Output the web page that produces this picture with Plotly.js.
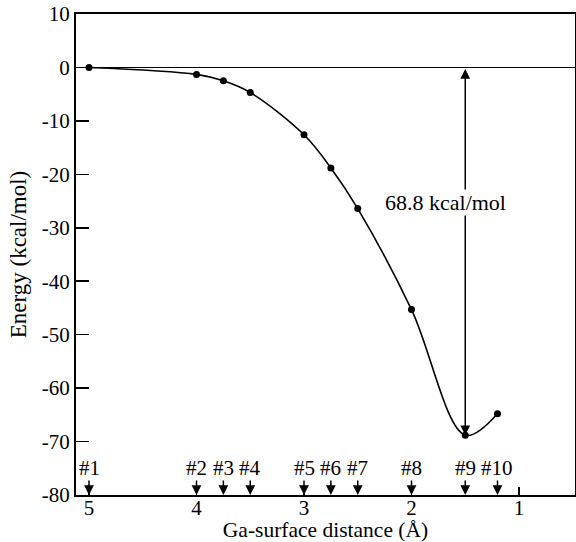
<!DOCTYPE html>
<html>
<head>
<meta charset="utf-8">
<script src="https://cdn.plot.ly/plotly-3.0.1.min.js"></script>
<style>html,body{margin:0;padding:0;background:#fff;}#chart{width:576px;height:542px;}</style>
</head>
<body>
<div id="chart"></div>
<script>
// Data
var pointLabels = ["#1","#2","#3","#4","#5","#6","#7","#8","#9","#10"];
var distance = [5.0, 4.0, 3.75, 3.5, 3.0, 2.75, 2.5, 2.0, 1.5, 1.2];
var energy = [0.0, -1.3, -2.5, -4.7, -12.6, -18.8, -26.4, -45.3, -68.8, -64.8];
var xTickVals = [5, 4, 3, 2, 1];
var yTickVals = [10, 0, -10, -20, -30, -40, -50, -60, -70, -80];
var barrierLabel = "68.8 kcal/mol";
var barrierX = 1.5;
var barrierTop = 0;
var barrierBottom = -68.8;

var serif = "Liberation Serif";

var trace = {
  x: distance, y: energy, type: "scatter", mode: "lines+markers",
  line: {shape: "spline", smoothing: 1, color: "#000", width: 1.6},
  marker: {size: 7, color: "#000"},
  cliponaxis: false, hoverinfo: "skip"
};

var annotations = [];
for (var i = 0; i < distance.length; i++) {
  annotations.push({
    x: distance[i], y: -80, xref: "x", yref: "y",
    ax: 0, ay: -27, text: pointLabels[i], showarrow: true,
    arrowhead: 2, arrowsize: 1.3, arrowwidth: 1.5, arrowcolor: "#000",
    standoff: 0, startstandoff: 0, borderpad: 0,
    font: {family: serif, size: 21, color: "#000"}
  });
}
annotations.push({
  x: barrierX, y: barrierBottom, ax: barrierX, ay: barrierTop,
  xref: "x", yref: "y", axref: "x", ayref: "y",
  text: "", showarrow: true, arrowside: "end+start",
  arrowhead: 2, arrowsize: 1.3, arrowwidth: 1.5, arrowcolor: "#000"
});
annotations.push({
  x: 1.68, y: -25.2, xref: "x", yref: "y", text: barrierLabel,
  showarrow: false, bgcolor: "#fff", borderpad: 0,
  font: {family: serif, size: 22, color: "#000"}
});

var layout = {
  width: 576, height: 542,
  margin: {l: 76, r: 1, t: 14, b: 47},
  paper_bgcolor: "#fff", plot_bgcolor: "#fff",
  showlegend: false,
  font: {family: serif, size: 21, color: "#000"},
  xaxis: {
    range: [5.121, 0.479], tickvals: xTickVals, ticktext: xTickVals.map(String),
    ticks: "inside", ticklen: 8, tickwidth: 1.5, tickcolor: "#000",
    ticklabelstandoff: -7,
    showline: true, linewidth: 2, linecolor: "#000", mirror: true,
    showgrid: false, zeroline: false,
    tickfont: {family: serif, size: 21},
    title: {text: "Ga-surface distance (Å)", font: {family: serif, size: 21.5}, standoff: 0}
  },
  yaxis: {
    range: [-80, 10], tickvals: yTickVals, ticktext: yTickVals.map(String),
    ticks: "inside", ticklen: 13, tickwidth: 1.5, tickcolor: "#000",
    showline: true, linewidth: 2, linecolor: "#000", mirror: true,
    showgrid: false, zeroline: true, zerolinecolor: "#000", zerolinewidth: 1.5,
    tickfont: {family: serif, size: 21},
    title: {text: "Energy (kcal/mol)", font: {family: serif, size: 23}, standoff: 9}
  },
  annotations: annotations
};

Plotly.newPlot("chart", [trace], layout, {displayModeBar: false, staticPlot: true});
</script>
</body>
</html>
